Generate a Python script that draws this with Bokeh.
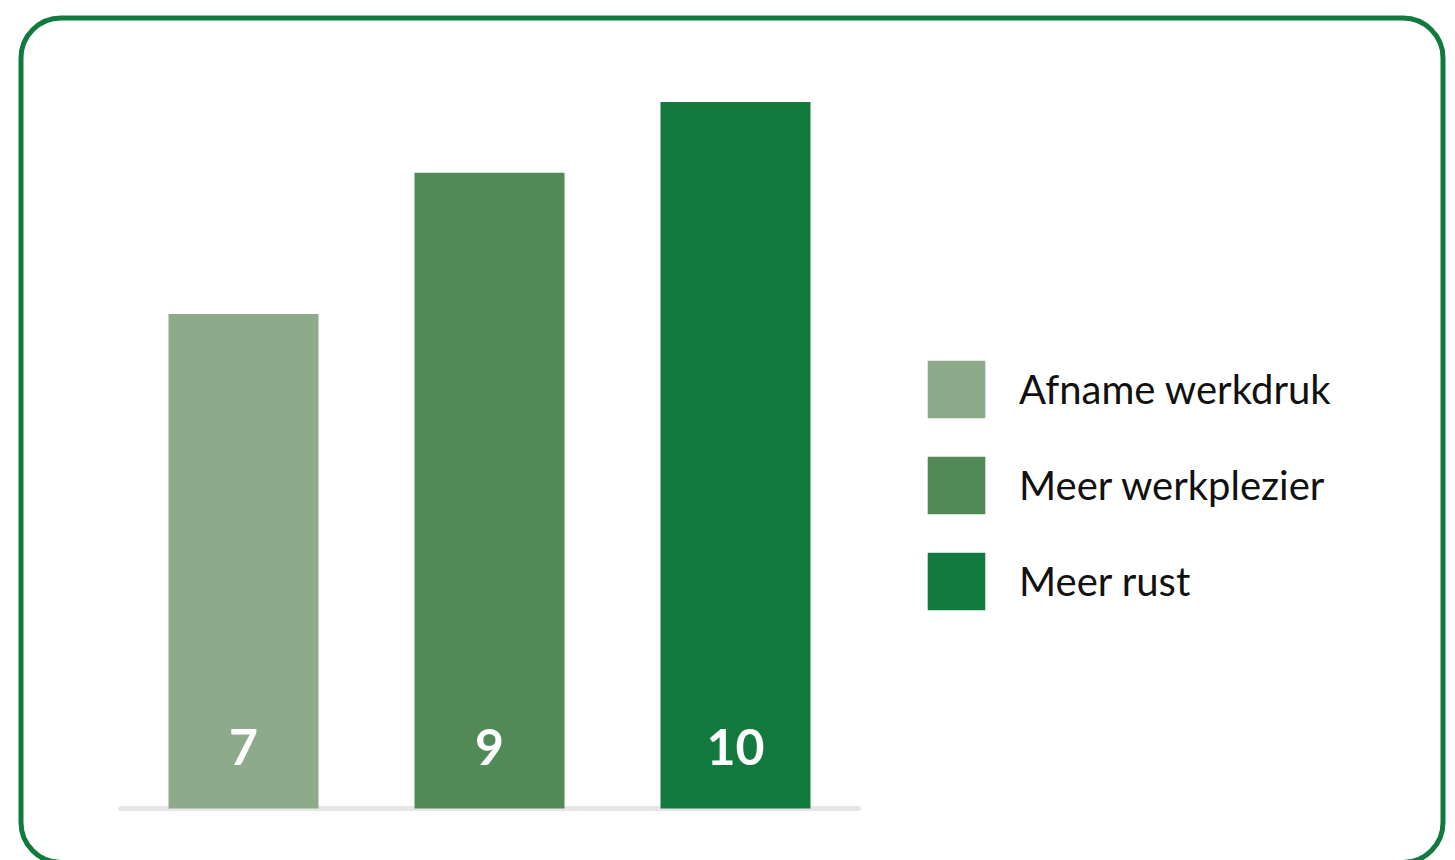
from bokeh.plotting import figure
from bokeh.models import Range1d, Legend, LegendItem, BoxAnnotation, ColumnDataSource
from bokeh.core.properties import value
from bokeh.embed import file_html
from bokeh.resources import INLINE

categories = ["Afname werkdruk", "Meer werkplezier", "Meer rust"]
values = [7, 9, 10]
labels = ["7", "9", "10"]
colors = ["#8DAB8A", "#518A57", "#127A3E"]

idx = list(range(len(categories)))
src = ColumnDataSource(dict(x=idx, cat=categories, val=values, lab=labels, col=colors))

W, H = 1455, 860
# one category slot = 246 px, one value unit = 70.64 px
p = figure(width=W, height=H, output_backend="svg", toolbar_location=None,
           x_range=Range1d(-243 / 246, (W - 243) / 246),
           y_range=Range1d(-(H - 808) / 70.64, 808 / 70.64),
           min_border=0)
p.outline_line_color = None
p.background_fill_color = "white"
p.border_fill_color = "white"
p.xgrid.visible = False
p.ygrid.visible = False
p.xaxis.visible = False
p.yaxis.visible = False

# baseline
p.segment(x0=[-0.5], y0=[0], x1=[len(categories) - 0.5], y1=[0],
          line_color="#E6E6E6", line_width=5, line_cap="round")

renderers = []
for i, c in enumerate(categories):
    r = p.vbar(x=[idx[i]], top=[values[i]], width=150 / 246, color=colors[i], line_color=None)
    renderers.append(r)

p.text(x="x", y=0, text="lab", source=src, text_color="white",
       text_font=value("Lato"), text_font_style="bold", text_font_size="50px",
       text_align="center", text_baseline="middle", y_offset=-62)

legend = Legend(items=[LegendItem(label=c, renderers=[renderers[i]]) for i, c in enumerate(categories)],
                location=(920, 243), glyph_width=72, glyph_height=72, spacing=24,
                label_standoff=27, label_text_font="Lato", label_text_font_size="40px",
                label_text_color="#111111", label_text_baseline="middle",
                padding=0, margin=0, border_line_color=None, background_fill_alpha=0)
p.add_layout(legend, "center")

border = BoxAnnotation(left=20.5, right=1442.5, top=H - 17.5, bottom=-2,
                       left_units="screen", right_units="screen", top_units="screen", bottom_units="screen",
                       fill_color=None, fill_alpha=0, line_color="#127A3E", line_alpha=1, line_width=5,
                       border_radius=40, level="overlay")
p.add_layout(border)

open("out.html", "w").write(file_html(p, INLINE))
